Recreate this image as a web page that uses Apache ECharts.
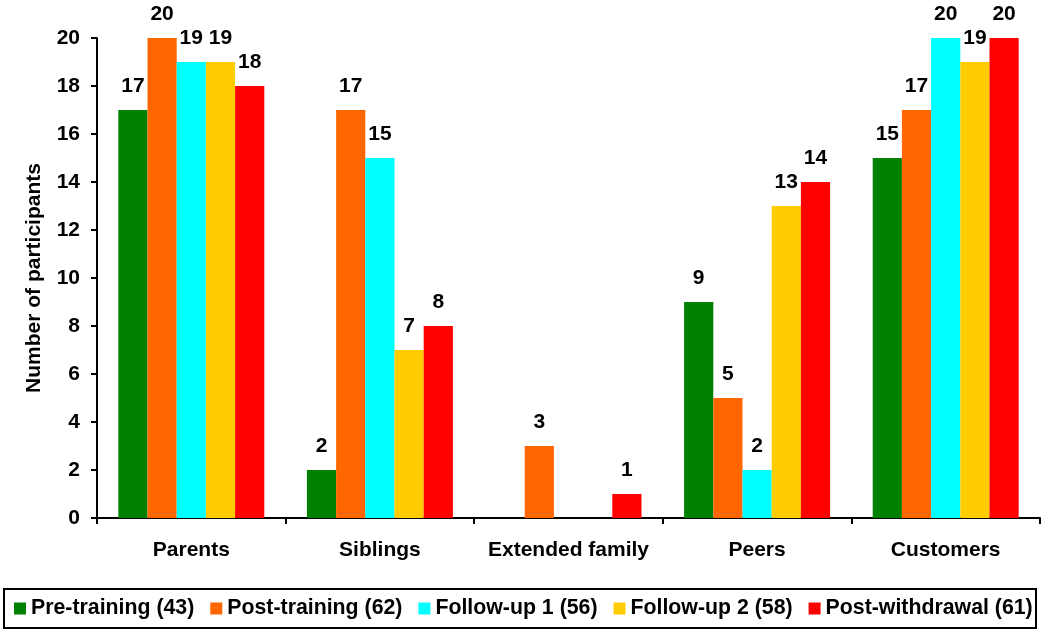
<!DOCTYPE html>
<html>
<head>
<meta charset="utf-8">
<script src="https://cdn.jsdelivr.net/npm/echarts@6/dist/echarts.min.js"></script>
<style>
  html, body { margin: 0; padding: 0; background: #fff; }
  #chart { width: 1041px; height: 630px; }
</style>
</head>
<body>
<div id="chart"></div>
<script>
// Who participants talked to, by study phase
const categories = ['Parents', 'Siblings', 'Extended family', 'Peers', 'Customers'];
const seriesNames = ['Pre-training (43)', 'Post-training (62)', 'Follow-up 1 (56)', 'Follow-up 2 (58)', 'Post-withdrawal (61)'];
const preTraining    = [17, 2, 0, 9, 15];
const postTraining   = [20, 17, 3, 5, 17];
const followUp1      = [19, 15, 0, 2, 20];
const followUp2      = [19, 7, 0, 13, 19];
const postWithdrawal = [18, 8, 1, 14, 20];
const yTicks = [0, 2, 4, 6, 8, 10, 12, 14, 16, 18, 20];

const colors = ['#008000', '#FF6600', '#00FFFF', '#FFCC00', '#FF0000'];
const allValues = [preTraining, postTraining, followUp1, followUp2, postWithdrawal];
const FONT = 'Liberation Sans, Arial, sans-serif';
const FS = 21;

const chart = echarts.init(document.getElementById('chart'));

const series = allValues.map((vals, i) => ({
  name: seriesNames[i],
  type: 'bar',
  data: vals,
  barGap: 0,
  barCategoryGap: '22.6%',
  itemStyle: { color: colors[i] },
  label: {
    show: true,
    position: 'top',
    distance: 13,
    color: '#000',
    fontFamily: FONT,
    fontWeight: 'bold',
    fontSize: FS,
    // zero-height bars carry no label
    formatter: p => (p.value === 0 ? '' : String(p.value))
  }
}));

chart.setOption({
  animation: false,
  backgroundColor: '#fff',
  color: colors,
  grid: { left: 97, top: 38, width: 943, height: 480, containLabel: false },
  xAxis: {
    type: 'category',
    data: categories,
    axisLine: { lineStyle: { color: '#000', width: 2 } },
    axisTick: { show: true, length: 6, lineStyle: { color: '#000', width: 2 } },
    axisLabel: {
      interval: 0,
      color: '#000', fontFamily: FONT, fontWeight: 'bold', fontSize: FS, margin: 22
    },
    splitLine: { show: false }
  },
  yAxis: {
    type: 'value',
    min: yTicks[0],
    max: yTicks[yTicks.length - 1],
    interval: 2,
    name: 'Number of participants',
    nameLocation: 'middle',
    nameGap: 52,
    nameTextStyle: { color: '#000', fontFamily: FONT, fontWeight: 'bold', fontSize: FS },
    axisLine: { show: true, lineStyle: { color: '#000', width: 2 } },
    axisTick: { show: true, length: 6, lineStyle: { color: '#000', width: 2 } },
    axisLabel: {
      color: '#000', fontFamily: FONT, fontWeight: 'bold', fontSize: FS, margin: 17
    },
    splitLine: { show: false }
  },
  legend: {
    left: 14,
    top: 598,
    itemWidth: 12,
    itemHeight: 12,
    itemGap: 16,
    icon: 'rect',
    textStyle: { color: '#000', fontFamily: FONT, fontWeight: 'bold', fontSize: 21.3, padding: [0, 0, 0, 0] },
    padding: 0
  },
  graphic: [{
    type: 'rect',
    shape: { x: 4, y: 589, width: 1032, height: 39 },
    style: { fill: 'none', stroke: '#000', lineWidth: 2 },
    z: -1
  }],
  series
});
</script>
</body>
</html>
